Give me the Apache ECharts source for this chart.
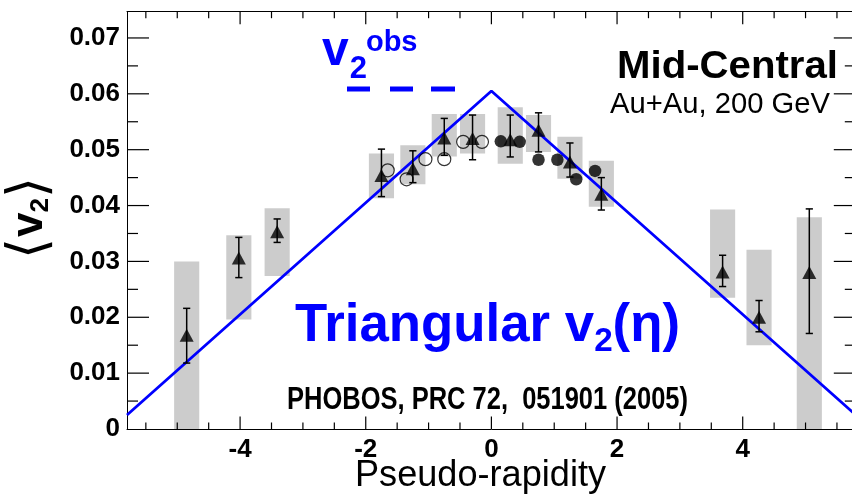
<!DOCTYPE html>
<html>
<head>
<meta charset="utf-8">
<script src="https://cdn.jsdelivr.net/npm/echarts@6/dist/echarts.min.js"></script>
<style>
  html, body { margin: 0; padding: 0; background: #fff; overflow: hidden; }
  /* the right frame edge sits just past the visible window */
  #main { width: 860px; height: 499px; background: #fff; }
</style>
</head>
<body>
<div id="main"></div>
<script>
// PHOBOS <v2> versus pseudo-rapidity, mid-central Au+Au at 200 GeV,
// with a triangular v2(eta) shape drawn on top.

// Triangles: v2 with statistical errors and systematic bands
const triEta   = [-4.85, -4.02, -3.41, -1.75, -1.25, -0.75, -0.30, 0.30, 0.75, 1.25, 1.75, 3.68, 4.26, 5.06];
const triV2    = [0.0168, 0.0306, 0.0353, 0.0454, 0.0466, 0.0521, 0.0520, 0.0518, 0.0535, 0.0478, 0.0420, 0.0281, 0.0200, 0.0280];
const statLow  = [0.0118, 0.0271, 0.0334, 0.0416, 0.0441, 0.0490, 0.0482, 0.0487, 0.0496, 0.0451, 0.0392, 0.0255, 0.0174, 0.0171];
const statHigh = [0.0216, 0.0343, 0.0376, 0.0501, 0.0498, 0.0556, 0.0562, 0.0562, 0.0566, 0.0512, 0.0450, 0.0311, 0.0230, 0.0394];
const sysLow   = [0.0000, 0.0196, 0.0274, 0.0413, 0.0438, 0.0488, 0.0493, 0.0475, 0.0496, 0.0448, 0.0398, 0.0235, 0.0150, 0.0000];
const sysHigh  = [0.0300, 0.0347, 0.0395, 0.0493, 0.0508, 0.0564, 0.0564, 0.0576, 0.0562, 0.0523, 0.0480, 0.0393, 0.0321, 0.0379];

// Open circles (negative eta) and filled circles (positive eta)
const openEta   = [-1.65, -1.35, -1.05, -0.75, -0.45, -0.15];
const openV2    = [0.0463, 0.0447, 0.0483, 0.0483, 0.0514, 0.0514];
const filledEta = [0.15, 0.45, 0.75, 1.05, 1.35, 1.65];
const filledV2  = [0.0515, 0.0514, 0.0482, 0.0482, 0.0447, 0.0462];

// Triangular v2(eta)
const triangleEta = [-5.8, 0, 5.8];
const triangleV2  = [0.0025, 0.0605, 0.0025];

// Tick marks and labels
const xMajorTicks = [-4, -2, 0, 2, 4];
const xMinorTicks = [-5.5, -5, -4.5, -3.5, -3, -2.5, -1.5, -1, -0.5, 0.5, 1, 1.5, 2.5, 3, 3.5, 4.5, 5, 5.5];
const yMajorTicks = [0.01, 0.02, 0.03, 0.04, 0.05, 0.06, 0.07];
const yMinorTicks = [0.005, 0.015, 0.025, 0.035, 0.045, 0.055, 0.065];

const X_MIN = -5.8, X_MAX = 5.8, X_STEP = 2;
const Y_MIN = 0, Y_MAX = 0.0747, Y_STEP = 0.01;

const BOX_HALF = 0.2;
const BLUE = '#0000ff';
const FONT = '"Liberation Sans", Arial, Helvetica, sans-serif';
const TICK_LEN = { xMajor: 12.5, xMinor: 6.5, yMajor: 22, yMinor: 11 };

// ---- text helpers -------------------------------------------------------
const measureCtx = document.createElement('canvas').getContext('2d');
function fontOf(p) { return (p.weight || 'normal') + ' ' + p.size + 'px ' + (p.family || FONT); }
function measure(p) { measureCtx.font = fontOf(p); return measureCtx.measureText(p.text).width; }
const MID = 0.3465; // baseline below the 'middle' anchor, in em

// A run of text pieces sharing one baseline (each piece may shift by dy)
function textRun(parts, o) {
  let total = 0;
  const ws = parts.map(p => { const w = measure(p); total += w + (p.gap || 0); return w; });
  const sx = o.width ? o.width / total : 1;
  let cx = o.align === 'center' ? -total / 2 : (o.align === 'right' ? -total : 0);
  const children = parts.map((p, i) => {
    cx += (p.gap || 0);
    const el = {
      type: 'text', x: cx, y: (p.dy || 0) - MID * p.size, silent: true,
      style: {
        text: p.text, fontSize: p.size, fontWeight: p.weight || 'normal',
        fontFamily: p.family || FONT, fill: p.color || o.color || '#000',
        align: 'left', verticalAlign: 'middle', textAlign: 'left', textVerticalAlign: 'middle'
      }
    };
    cx += ws[i];
    return el;
  });
  return { type: 'group', x: o.x, y: o.y, scaleX: sx, rotation: o.rotation || 0, silent: true, children };
}

// ---- series renderers -----------------------------------------------------
function renderBox(params, api) {
  const e = api.value(0), lo = api.value(1), hi = api.value(2);
  const a = api.coord([e - BOX_HALF, hi]);
  const b = api.coord([e + BOX_HALF, lo]);
  return { type: 'rect', shape: { x: a[0], y: a[1], width: b[0] - a[0], height: b[1] - a[1] },
           style: { fill: '#cccccc' } };
}
function renderErr(params, api) {
  const e = api.value(0), lo = api.value(1), hi = api.value(2);
  const t = api.coord([e, hi]), b = api.coord([e, lo]);
  const c = 3.6, st = { stroke: '#000', lineWidth: 1.5 };
  return { type: 'group', children: [
    { type: 'line', shape: { x1: t[0], y1: t[1], x2: b[0], y2: b[1] }, style: st },
    { type: 'line', shape: { x1: t[0] - c, y1: t[1], x2: t[0] + c, y2: t[1] }, style: st },
    { type: 'line', shape: { x1: b[0] - c, y1: b[1], x2: b[0] + c, y2: b[1] }, style: st }
  ] };
}

// Inward frame ticks: thin rectangles anchored on the frame edges
function tickSeries(points, size, offset) {
  return {
    type: 'scatter', xAxisIndex: 0, yAxisIndex: 0, z: 6, silent: true, clip: false,
    symbol: 'rect', symbolSize: size, symbolOffset: offset,
    itemStyle: { color: '#000', opacity: 1 }, emphasis: { disabled: true },
    data: points
  };
}
const tickSeriesList = [
  tickSeries(xMajorTicks.map(v => [v, Y_MIN]), [1.2, TICK_LEN.xMajor], [0, -TICK_LEN.xMajor / 2]),
  tickSeries(xMinorTicks.map(v => [v, Y_MIN]), [1.2, TICK_LEN.xMinor], [0, -TICK_LEN.xMinor / 2]),
  tickSeries(xMajorTicks.map(v => [v, Y_MAX]), [1.2, TICK_LEN.xMajor], [0, TICK_LEN.xMajor / 2]),
  tickSeries(xMinorTicks.map(v => [v, Y_MAX]), [1.2, TICK_LEN.xMinor], [0, TICK_LEN.xMinor / 2]),
  tickSeries(yMajorTicks.map(v => [X_MIN, v]), [TICK_LEN.yMajor, 1.2], [TICK_LEN.yMajor / 2, 0]),
  tickSeries(yMinorTicks.map(v => [X_MIN, v]), [TICK_LEN.yMinor, 1.2], [TICK_LEN.yMinor / 2, 0]),
  tickSeries(yMajorTicks.map(v => [X_MAX, v]), [TICK_LEN.yMajor, 1.2], [-TICK_LEN.yMajor / 2, 0]),
  tickSeries(yMinorTicks.map(v => [X_MAX, v]), [TICK_LEN.yMinor, 1.2], [-TICK_LEN.yMinor / 2, 0])
];

// ---- axes -----------------------------------------------------------------
const isMultiple = (v, s) => Math.abs(v / s - Math.round(v / s)) < 1e-6;
const frameLine = () => ({ show: true, onZero: false, lineStyle: { color: '#000', width: 1 } });
const labelFont = { color: '#000', fontFamily: FONT, fontWeight: 'bold', fontSize: 26 };

const chart = echarts.init(document.getElementById('main'), null, { renderer: 'canvas' });

const option = {
  animation: false,
  grid: { show: false, left: 127, top: 11.7, right: 4.2, bottom: 70 },
  xAxis: [
    {
      type: 'value', position: 'bottom', min: X_MIN, max: X_MAX,
      splitNumber: 5, minInterval: X_STEP, maxInterval: X_STEP,
      axisLine: frameLine(), axisTick: { show: false }, splitLine: { show: false },
      axisLabel: Object.assign({ show: true, margin: 8,
        formatter: v => (isMultiple(v, X_STEP) ? String(Math.round(v)) : '') }, labelFont)
    },
    {
      type: 'value', position: 'top', min: X_MIN, max: X_MAX,
      axisLine: frameLine(), axisTick: { show: false }, splitLine: { show: false }, axisLabel: { show: false }
    }
  ],
  yAxis: [
    {
      type: 'value', position: 'left', min: Y_MIN, max: Y_MAX, interval: Y_STEP,
      axisLine: frameLine(), axisTick: { show: false }, splitLine: { show: false },
      axisLabel: Object.assign({ show: true, margin: 7,
        formatter: v => (v === 0 ? '0' : (isMultiple(v, Y_STEP) ? v.toFixed(2) : '')) }, labelFont)
    },
    {
      type: 'value', position: 'right', min: Y_MIN, max: Y_MAX,
      axisLine: frameLine(), axisTick: { show: false }, splitLine: { show: false }, axisLabel: { show: false }
    }
  ],
  series: [
    {
      name: 'systematic', type: 'custom', xAxisIndex: 0, yAxisIndex: 0, z: 1,
      renderItem: renderBox, encode: { x: 0, y: [1, 2] },
      data: triEta.map((e, i) => [e, sysLow[i], sysHigh[i]])
    },
    {
      name: 'triangular', type: 'line', xAxisIndex: 0, yAxisIndex: 0, z: 2,
      symbol: 'none', lineStyle: { color: BLUE, width: 2.8 },
      data: triangleEta.map((e, i) => [e, triangleV2[i]])
    },
    {
      name: 'statistical', type: 'custom', xAxisIndex: 0, yAxisIndex: 0, z: 3,
      renderItem: renderErr, encode: { x: 0, y: [1, 2] },
      data: triEta.map((e, i) => [e, statLow[i], statHigh[i]])
    },
    {
      name: 'open', type: 'scatter', xAxisIndex: 0, yAxisIndex: 0, z: 4,
      symbol: 'circle', symbolSize: 13,
      itemStyle: { color: 'rgba(255,255,255,0)', borderColor: '#000', borderWidth: 1.2 },
      data: openEta.map((e, i) => [e, openV2[i]])
    },
    {
      name: 'filled', type: 'scatter', xAxisIndex: 0, yAxisIndex: 0, z: 4,
      symbol: 'circle', symbolSize: 12.5, itemStyle: { color: '#000' },
      data: filledEta.map((e, i) => [e, filledV2[i]])
    },
    {
      name: 'triangles', type: 'scatter', xAxisIndex: 0, yAxisIndex: 0, z: 5,
      symbol: 'triangle', symbolSize: [14, 13], itemStyle: { color: '#000' },
      data: triEta.map((e, i) => [e, triV2[i]])
    }
  ].concat(tickSeriesList),
  graphic: [
    // y-axis title <v2>
    textRun([
      { text: '\u27E8', size: 54, family: '"DejaVu Sans", sans-serif', dy: 5 },
      { text: 'v', size: 44, weight: 'bold', gap: 1 },
      { text: '2', size: 26, weight: 'bold', dy: 5 },
      { text: '\u27E9', size: 54, family: '"DejaVu Sans", sans-serif', dy: 5 }
    ], { x: 45, y: 259, align: 'left', rotation: Math.PI / 2 }),

    // x-axis title
    textRun([{ text: 'Pseudo-rapidity', size: 37 }], { x: 480.5, y: 489, align: 'center', width: 251 }),

    // v2^obs key with dashed sample
    textRun([
      { text: 'v', size: 48, weight: 'bold' },
      { text: '2', size: 31, weight: 'bold', dy: 12, gap: 1 },
      { text: 'obs', size: 29, weight: 'bold', dy: -15, gap: -1 }
    ], { x: 322, y: 68, align: 'left', color: BLUE }),
    { type: 'line', silent: true, shape: { x1: 347, y1: 89, x2: 370, y2: 89 }, style: { stroke: BLUE, lineWidth: 5 } },
    { type: 'line', silent: true, shape: { x1: 390, y1: 89, x2: 413, y2: 89 }, style: { stroke: BLUE, lineWidth: 5 } },
    { type: 'line', silent: true, shape: { x1: 431, y1: 89, x2: 455, y2: 89 }, style: { stroke: BLUE, lineWidth: 5 } },

    // centrality / system labels
    textRun([{ text: 'Mid-Central', size: 38, weight: 'bold' }], { x: 838, y: 80.5, align: 'right', width: 221 }),
    textRun([{ text: 'Au+Au, 200 GeV', size: 29 }], { x: 830, y: 115, align: 'right', width: 220 }),

    // shape label
    textRun([
      { text: 'Triangular v', size: 54, weight: 'bold' },
      { text: '2', size: 34, weight: 'bold', dy: 8 },
      { text: '(\u03B7)', size: 54, weight: 'bold' }
    ], { x: 487.5, y: 345, align: 'center', width: 385, color: BLUE }),

    // reference
    textRun([{ text: 'PHOBOS, PRC 72,  051901 (2005)', size: 31, weight: 'bold' }],
            { x: 487.5, y: 411.5, align: 'center', width: 401 })
  ]
};

chart.setOption(option);
</script>
</body>
</html>
